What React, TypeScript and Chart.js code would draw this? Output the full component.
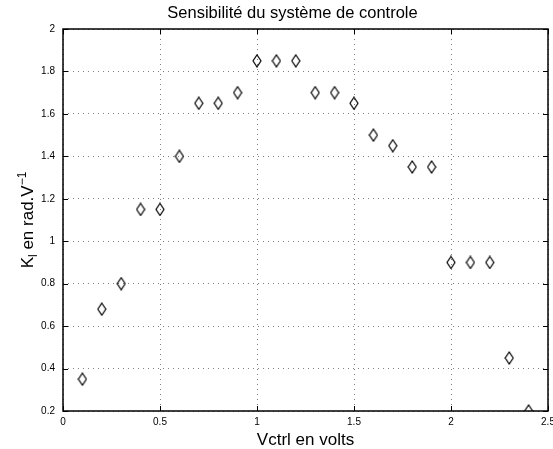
import { useEffect, useRef } from 'react';
import { Chart, registerables } from 'chart.js';

Chart.register(...registerables);

const vctrl = [0.1, 0.2, 0.3, 0.4, 0.5, 0.6, 0.7, 0.8, 0.9, 1.0, 1.1, 1.2, 1.3, 1.4, 1.5, 1.6, 1.7, 1.8, 1.9, 2.0, 2.1, 2.2, 2.3, 2.4];
const kl = [0.35, 0.68, 0.8, 1.15, 1.15, 1.4, 1.65, 1.65, 1.7, 1.85, 1.85, 1.85, 1.7, 1.7, 1.65, 1.5, 1.45, 1.35, 1.35, 0.9, 0.9, 0.9, 0.45, 0.2];
const xTicks = [0, 0.5, 1, 1.5, 2, 2.5];
const yTicks = [0.2, 0.4, 0.6, 0.8, 1, 1.2, 1.4, 1.6, 1.8, 2];
const titleText = 'Sensibilité du système de controle';
const xLabelText = 'Vctrl en volts';
const yLabelMain = 'K';
const yLabelSub = 'l';
const yLabelMid = ' en rad.V';
const yLabelSup = '−1';

const FONT = '"Liberation Sans", Arial, Helvetica, sans-serif';

function makeDiamond(): HTMLCanvasElement {
  const c = document.createElement('canvas');
  c.width = 10;
  c.height = 14;
  const g = c.getContext('2d')!;
  g.strokeStyle = '#000';
  g.lineWidth = 1.2;
  g.beginPath();
  g.moveTo(5, 1);
  g.lineTo(9, 7);
  g.lineTo(5, 13);
  g.lineTo(1, 7);
  g.closePath();
  g.stroke();
  return c;
}

const framePlugin = {
  id: 'matlabFrame',
  afterDraw(chart: any) {
    const { ctx, chartArea: a, scales } = chart;
    const xs = scales.x;
    const ys = scales.y;
    ctx.save();
    ctx.strokeStyle = '#000';
    ctx.lineWidth = 1.5;
    ctx.setLineDash([]);
    ctx.strokeRect(a.left, a.top, a.right - a.left, a.bottom - a.top);
    ctx.lineWidth = 1;
    const tl = 5;
    ctx.beginPath();
    for (const v of xTicks) {
      const px = Math.round(xs.getPixelForValue(v)) + 0.5;
      ctx.moveTo(px, a.bottom);
      ctx.lineTo(px, a.bottom - tl);
      ctx.moveTo(px, a.top);
      ctx.lineTo(px, a.top + tl);
    }
    for (const v of yTicks) {
      const py = Math.round(ys.getPixelForValue(v)) + 0.5;
      ctx.moveTo(a.left, py);
      ctx.lineTo(a.left + tl, py);
      ctx.moveTo(a.right, py);
      ctx.lineTo(a.right - tl, py);
    }
    ctx.stroke();

    ctx.fillStyle = '#000';
    ctx.font = `16.5px ${FONT}`;
    ctx.textAlign = 'center';
    ctx.textBaseline = 'alphabetic';
    ctx.fillText(titleText, (a.left + a.right) / 2 - 13, 18);
    ctx.font = `17px ${FONT}`;
    ctx.fillText(xLabelText, (a.left + a.right) / 2, 445);
    const mainFont = `17px ${FONT}`;
    const smallFont = `12px ${FONT}`;
    ctx.font = mainFont;
    const wK = ctx.measureText(yLabelMain).width;
    const wMid = ctx.measureText(yLabelMid).width;
    ctx.font = smallFont;
    const wSub = ctx.measureText(yLabelSub).width;
    const wSup = ctx.measureText(yLabelSup).width;
    const total = wK + wSub + wMid + wSup;
    ctx.translate(33, (a.top + a.bottom) / 2);
    ctx.rotate(-Math.PI / 2);
    ctx.textAlign = 'left';
    let x = -total / 2;
    ctx.font = mainFont;
    ctx.fillText(yLabelMain, x, 0);
    x += wK;
    ctx.font = smallFont;
    ctx.fillText(yLabelSub, x, 4);
    x += wSub;
    ctx.font = mainFont;
    ctx.fillText(yLabelMid, x, 0);
    x += wMid;
    ctx.font = smallFont;
    ctx.fillText(yLabelSup, x, -7);
    ctx.restore();
  },
};

export default function App() {
  const ref = useRef<HTMLCanvasElement>(null);
  useEffect(() => {
    document.body.style.margin = '0';
    const diamond = makeDiamond();
    const chart = new Chart(ref.current!, {
      type: 'scatter',
      data: {
        datasets: [
          {
            data: vctrl.map((v, i) => ({ x: v, y: kl[i] })),
            pointStyle: diamond as any,
            showLine: false,
            borderColor: '#000',
            backgroundColor: 'transparent',
          },
        ],
      },
      options: {
        responsive: false,
        animation: false,
        devicePixelRatio: 1,
        layout: { padding: { top: 29, right: 5, left: 0, bottom: 0 } },
        plugins: {
          legend: { display: false },
          title: { display: false },
          tooltip: { enabled: false },
        },
        scales: {
          x: {
            type: 'linear',
            min: 0,
            max: 2.5,
            afterBuildTicks: (s: any) => {
              s.ticks = xTicks.map((v) => ({ value: v }));
            },
            afterFit: (s: any) => {
              s.height = 38;
              s.paddingLeft = 0;
              s.paddingRight = 0;
            },
            ticks: {
              autoSkip: false,
              maxRotation: 0,
              padding: 5,
              color: '#000',
              font: { family: FONT, size: 10 },
              callback: (v: any) => String(v),
            },
            grid: {
              drawTicks: false,
              color: 'rgba(0,0,0,0.5)',
              lineWidth: 1,
            },
            border: { display: false, dash: [1, 4] },
          },
          y: {
            type: 'linear',
            min: 0.2,
            max: 2,
            afterBuildTicks: (s: any) => {
              s.ticks = yTicks.map((v) => ({ value: v }));
            },
            afterFit: (s: any) => {
              s.width = 63;
              s.paddingTop = 0;
              s.paddingBottom = 0;
            },
            ticks: {
              autoSkip: false,
              padding: 8,
              color: '#000',
              font: { family: FONT, size: 10 },
              callback: (v: any) => String(Math.round(v * 10) / 10),
            },
            grid: {
              drawTicks: false,
              color: 'rgba(0,0,0,0.5)',
              lineWidth: 1,
            },
            border: { display: false, dash: [1, 4] },
          },
        },
      },
      plugins: [framePlugin],
    });
    return () => chart.destroy();
  }, []);
  return (
    <div style={{ position: 'absolute', left: 0, top: 0, width: 553, height: 449 }}>
      <canvas ref={ref} width={553} height={449} style={{ width: 553, height: 449 }} />
    </div>
  );
}
